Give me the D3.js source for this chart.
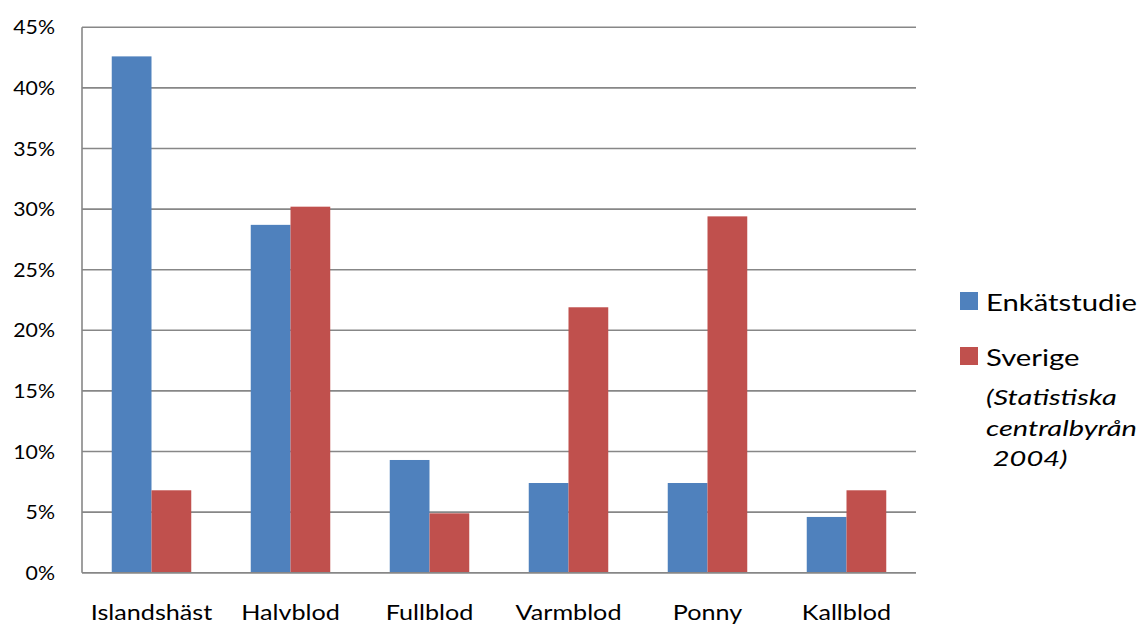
<!DOCTYPE html>
<html>
<head>
<meta charset="utf-8">
<script src="https://cdn.jsdelivr.net/npm/d3@7"></script>
<style>
  html, body { margin: 0; padding: 0; background: #fff; }
  svg { display: block; font-family: Lato, "Open Sans", sans-serif; }
</style>
</head>
<body>
<svg id="chart" width="1140" height="626"></svg>
<script>
// Hästraser: andel i enkätstudien jämfört med hela Sverige
const categories = ["Islandshäst", "Halvblod", "Fullblod", "Varmblod", "Ponny", "Kallblod"];
const seriesNames = ["Enkätstudie", "Sverige"];
const enkatstudie = [0.426, 0.287, 0.093, 0.074, 0.074, 0.046];
const sverige = [0.068, 0.302, 0.049, 0.219, 0.294, 0.068];
const yTicks = [0, 0.05, 0.10, 0.15, 0.20, 0.25, 0.30, 0.35, 0.40, 0.45];
const sourceNote = ["(Statistiska", "centralbyrån", "\u00a02004)"];

const colors = { "Enkätstudie": "#4F81BD", "Sverige": "#C0504D" };
const gridColor = "#878787";

const svg = d3.select("#chart");
const plot = { left: 82, right: 916, top: 27.3, bottom: 572.7 };

// Widen a group of labels horizontally by a common factor (wide Calibri-like lettering)
function widen(selection, factor) {
  selection.each(function () {
    const w = this.getComputedTextLength();
    d3.select(this).attr("textLength", w * factor).attr("lengthAdjust", "spacingAndGlyphs");
  });
}

const y = d3.scaleLinear().domain([0, 0.45]).range([plot.bottom, plot.top]);
const x0 = d3.scaleBand().domain(categories).range([plot.left, plot.right]).padding(0);
const gap = x0.bandwidth() * 0.214;
const x1 = d3.scaleBand().domain(seriesNames).range([gap, x0.bandwidth() - gap]).padding(0);

// horizontal gridlines
svg.append("g")
  .selectAll("line")
  .data(yTicks)
  .join("line")
  .attr("x1", plot.left).attr("x2", plot.right)
  .attr("y1", d => y(d)).attr("y2", d => y(d))
  .attr("stroke", gridColor).attr("stroke-width", 1.6);

// y axis labels
const yAxis = d3.axisLeft(y).tickValues(yTicks).tickFormat(d3.format(".0%")).tickSize(0).tickPadding(27);
const gy = svg.append("g").attr("transform", `translate(${plot.left},0)`).call(yAxis);
gy.select(".domain").remove();
const yLabels = gy.selectAll("text").attr("font-size", 18.5).attr("fill", "#000")
  .attr("font-family", "Lato, sans-serif").attr("dy", "0.36em");
widen(yLabels, 1.15);

// bars
const rows = categories.map((c, i) => ({ cat: c, values: [
  { s: "Enkätstudie", v: enkatstudie[i] },
  { s: "Sverige", v: sverige[i] }
]}));

svg.append("g")
  .selectAll("g")
  .data(rows)
  .join("g")
  .attr("transform", d => `translate(${x0(d.cat)},0)`)
  .selectAll("rect")
  .data(d => d.values)
  .join("rect")
  .attr("x", d => x1(d.s))
  .attr("width", x1.bandwidth())
  .attr("y", d => y(d.v))
  .attr("height", d => y(0) - y(d.v))
  .attr("fill", d => colors[d.s]);

// vertical axis line
svg.append("line")
  .attr("x1", plot.left).attr("x2", plot.left)
  .attr("y1", plot.top).attr("y2", plot.bottom)
  .attr("stroke", gridColor).attr("stroke-width", 1.6);
// base line
svg.append("line")
  .attr("x1", plot.left).attr("x2", plot.right)
  .attr("y1", y(0)).attr("y2", y(0))
  .attr("stroke", gridColor).attr("stroke-width", 1.6);

// category labels
const xAxis = d3.axisBottom(x0).tickSize(0).tickPadding(0);
const gx = svg.append("g").attr("transform", `translate(0,${plot.bottom})`).call(xAxis);
gx.select(".domain").remove();
const xLabels = gx.selectAll("text").attr("font-size", 21.5).attr("fill", "#000")
  .attr("font-family", "Lato, sans-serif").attr("dy", null).attr("y", 47);
widen(xLabels, 1.17);

// legend
const legend = svg.append("g").attr("transform", "translate(960,0)");
const legendY = { "Enkätstudie": 292, "Sverige": 347 };
seriesNames.forEach(s => {
  legend.append("rect")
    .attr("x", 0).attr("y", legendY[s])
    .attr("width", 18).attr("height", 18)
    .attr("fill", colors[s]);
  legend.append("text")
    .attr("class", "entry")
    .attr("x", 26).attr("y", legendY[s] + 18.5)
    .attr("font-size", 24).attr("fill", "#000")
    .text(s);
});
widen(legend.selectAll("text.entry"), 1.22);

const notes = legend.selectAll("text.note")
  .data(sourceNote)
  .join("text")
  .attr("class", "note")
  .attr("x", 26)
  .attr("y", (d, i) => 405 + i * 30.5)
  .attr("font-size", 21)
  .attr("font-style", "italic")
  .attr("fill", "#000")
  .text(d => d);
widen(notes, 1.38);
</script>
</body>
</html>
